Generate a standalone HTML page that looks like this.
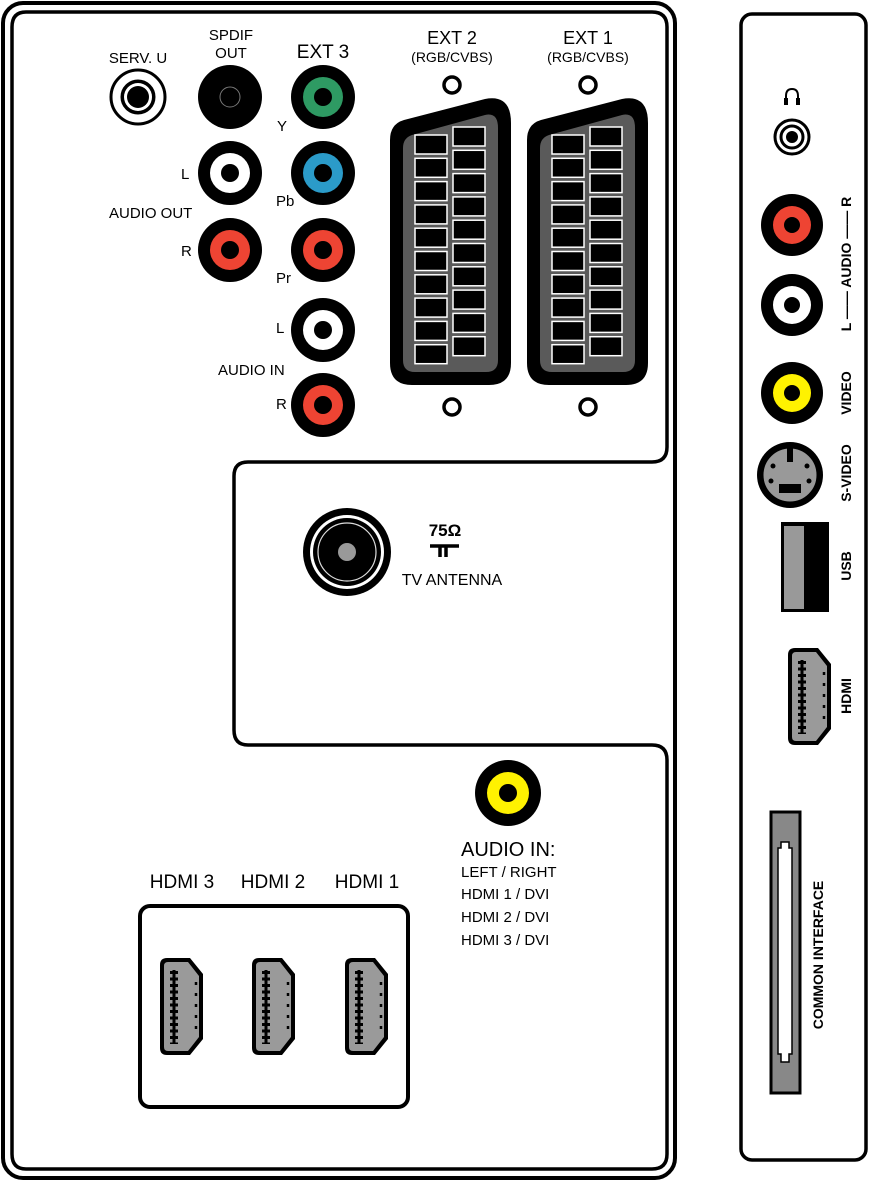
<!DOCTYPE html>
<html><head><meta charset="utf-8"><style>
html,body{margin:0;padding:0;background:#fff}
svg{display:block}
text{font-family:"Liberation Sans",sans-serif;fill:#000}
</style></head><body>
<svg width="869" height="1181" viewBox="0 0 869 1181" xmlns="http://www.w3.org/2000/svg">
<defs>
<g id="scart">
<path d="M0,42 Q0,26 14,22 L95,1 Q121,-4 121,25 L121,265 Q121,287 99,287 L22,287 Q0,287 0,265 Z" fill="#000"/>
<path d="M13,50 Q13,40 22,37 L95,17 Q108,14 108,30 L108,262 Q108,274 96,274 L25,274 Q13,274 13,262 Z" fill="#5a5a5a"/>
<g fill="#000" stroke="#fff" stroke-width="1.5">
<rect x="25" y="37" width="32" height="19"/><rect x="25" y="60.3" width="32" height="19"/><rect x="25" y="83.6" width="32" height="19"/><rect x="25" y="106.9" width="32" height="19"/><rect x="25" y="130.2" width="32" height="19"/><rect x="25" y="153.5" width="32" height="19"/><rect x="25" y="176.8" width="32" height="19"/><rect x="25" y="200.1" width="32" height="19"/><rect x="25" y="223.4" width="32" height="19"/><rect x="25" y="246.7" width="32" height="19"/>
<rect x="63" y="29" width="32" height="19"/><rect x="63" y="52.3" width="32" height="19"/><rect x="63" y="75.6" width="32" height="19"/><rect x="63" y="98.9" width="32" height="19"/><rect x="63" y="122.2" width="32" height="19"/><rect x="63" y="145.5" width="32" height="19"/><rect x="63" y="168.8" width="32" height="19"/><rect x="63" y="192.1" width="32" height="19"/><rect x="63" y="215.4" width="32" height="19"/><rect x="63" y="238.7" width="32" height="19"/>
</g>
</g>
<g id="hdmi">
<path d="M7,0 L30,0 L43,16 L43,81 L30,97 L7,97 Q0,97 0,90 L0,7 Q0,0 7,0 Z" fill="#000"/>
<path d="M8,4 L28,4 L39,18 L39,79 L28,93 L8,93 Q4,93 4,89 L4,8 Q4,4 8,4 Z" fill="#9a9a9a"/>
<line x1="14" y1="12" x2="14" y2="86" stroke="#000" stroke-width="3"/>
<line x1="14" y1="13" x2="14" y2="86" stroke="#000" stroke-width="8" stroke-dasharray="3,3.5"/>
<line x1="36" y1="24" x2="36" y2="74" stroke="#000" stroke-width="2.5" stroke-dasharray="3,8"/>
</g>
</defs>

<rect x="3" y="3" width="672" height="1175" rx="20" fill="none" stroke="#000" stroke-width="4"/>
<path d="M26,12 L652,12 Q667,12 667,27 L667,447 Q667,462 652,462 L248,462 Q234,462 234,476 L234,730 Q234,745 248,745 L652,745 Q667,745 667,760 L667,1154 Q667,1169 652,1169 L26,1169 Q12,1169 12,1154 L12,27 Q12,12 26,12 Z" fill="none" stroke="#000" stroke-width="3.5"/>

<rect x="741" y="14" width="125" height="1146" rx="11" fill="none" stroke="#000" stroke-width="3.5"/>

<text x="138" y="63" font-size="15" text-anchor="middle">SERV. U</text>
<text x="231" y="40" font-size="15" text-anchor="middle">SPDIF</text>
<text x="231" y="58" font-size="15" text-anchor="middle">OUT</text>
<text x="323" y="58" font-size="19" text-anchor="middle">EXT 3</text>

<circle cx="138" cy="97" r="27" fill="#fff" stroke="#000" stroke-width="3"/>
<circle cx="138" cy="97" r="17" fill="#000" stroke="#000" stroke-width="1"/>
<circle cx="138" cy="97" r="14" fill="#fff"/>
<circle cx="138" cy="97" r="11" fill="#000"/>
<circle cx="230" cy="97" r="32" fill="#000"/>
<circle cx="230" cy="97" r="10" fill="none" stroke="#777" stroke-width="1"/>
<g>
<circle cx="323" cy="97" r="32" fill="#000"/><circle cx="323" cy="97" r="20" fill="#2e9a63"/><circle cx="323" cy="97" r="9" fill="#000"/>
<circle cx="230" cy="173" r="32" fill="#000"/><circle cx="230" cy="173" r="20" fill="#fff"/><circle cx="230" cy="173" r="9" fill="#000"/>
<circle cx="323" cy="173" r="32" fill="#000"/><circle cx="323" cy="173" r="20" fill="#2b9bc9"/><circle cx="323" cy="173" r="9" fill="#000"/>
<circle cx="230" cy="250" r="32" fill="#000"/><circle cx="230" cy="250" r="20" fill="#ee4433"/><circle cx="230" cy="250" r="9" fill="#000"/>
<circle cx="323" cy="250" r="32" fill="#000"/><circle cx="323" cy="250" r="20" fill="#ee4433"/><circle cx="323" cy="250" r="9" fill="#000"/>
<circle cx="323" cy="330" r="32" fill="#000"/><circle cx="323" cy="330" r="20" fill="#fff"/><circle cx="323" cy="330" r="9" fill="#000"/>
<circle cx="323" cy="405" r="32" fill="#000"/><circle cx="323" cy="405" r="20" fill="#ee4433"/><circle cx="323" cy="405" r="9" fill="#000"/>
</g>
<text x="277" y="131" font-size="15">Y</text>
<text x="181" y="179" font-size="15">L</text>
<text x="276" y="206" font-size="15">Pb</text>
<text x="109" y="218" font-size="15">AUDIO OUT</text>
<text x="181" y="256" font-size="15">R</text>
<text x="276" y="283" font-size="15">Pr</text>
<text x="276" y="333" font-size="15">L</text>
<text x="218" y="375" font-size="15">AUDIO IN</text>
<text x="276" y="409" font-size="15">R</text>

<text x="452" y="44" font-size="18" text-anchor="middle">EXT 2</text>
<text x="452" y="62" font-size="14" text-anchor="middle">(RGB/CVBS)</text>
<text x="588" y="44" font-size="18" text-anchor="middle">EXT 1</text>
<text x="588" y="62" font-size="14" text-anchor="middle">(RGB/CVBS)</text>
<circle cx="452" cy="85" r="8" fill="none" stroke="#000" stroke-width="3.5"/>
<circle cx="588" cy="85" r="8" fill="none" stroke="#000" stroke-width="3.5"/>
<circle cx="452" cy="407" r="8" fill="none" stroke="#000" stroke-width="3.5"/>
<circle cx="588" cy="407" r="8" fill="none" stroke="#000" stroke-width="3.5"/>
<use href="#scart" x="390" y="98"/>
<use href="#scart" x="527" y="98"/>

<circle cx="347" cy="552" r="44" fill="#000"/>
<circle cx="347" cy="552" r="37" fill="#fff"/>
<circle cx="347" cy="552" r="34" fill="#000"/>
<circle cx="347" cy="552" r="29" fill="none" stroke="#ddd" stroke-width="1.2"/>
<circle cx="347" cy="552" r="9" fill="#999"/>
<text x="445" y="536" font-size="17" font-weight="bold" text-anchor="middle">75Ω</text>
<path d="M430,546 L459,546 M440,546 L440,557 M446,546 L446,557" stroke="#000" stroke-width="3.5" fill="none"/>
<text x="452" y="585" font-size="16" text-anchor="middle">TV ANTENNA</text>

<circle cx="508" cy="793" r="33" fill="#000"/><circle cx="508" cy="793" r="21" fill="#fff200"/><circle cx="508" cy="793" r="9" fill="#000"/>
<text x="461" y="856" font-size="20">AUDIO IN:</text>
<text x="461" y="877" font-size="15">LEFT / RIGHT</text>
<text x="461" y="899" font-size="15">HDMI 1 / DVI</text>
<text x="461" y="922" font-size="15">HDMI 2 / DVI</text>
<text x="461" y="945" font-size="15">HDMI 3 / DVI</text>

<text x="182" y="888" font-size="19" text-anchor="middle">HDMI 3</text>
<text x="273" y="888" font-size="19" text-anchor="middle">HDMI 2</text>
<text x="367" y="888" font-size="19" text-anchor="middle">HDMI 1</text>
<rect x="140" y="906" width="268" height="201" rx="10" fill="none" stroke="#000" stroke-width="4"/>
<use href="#hdmi" x="160" y="958"/>
<use href="#hdmi" x="252" y="958"/>
<use href="#hdmi" x="345" y="958"/>

<path d="M786,104 L786,96 Q786,89 792,89 Q798,89 798,96 L798,104" fill="none" stroke="#000" stroke-width="2"/>
<rect x="784" y="98" width="4" height="7" fill="#000"/><rect x="796" y="98" width="4" height="7" fill="#000"/>
<circle cx="792" cy="137" r="17" fill="#fff" stroke="#000" stroke-width="3"/>
<circle cx="792" cy="137" r="11" fill="none" stroke="#000" stroke-width="3"/>
<circle cx="792" cy="137" r="6" fill="#000"/>

<circle cx="792" cy="225" r="31" fill="#000"/><circle cx="792" cy="225" r="19" fill="#ee4433"/><circle cx="792" cy="225" r="8" fill="#000"/>
<circle cx="792" cy="305" r="31" fill="#000"/><circle cx="792" cy="305" r="19" fill="#fff"/><circle cx="792" cy="305" r="8" fill="#000"/>
<circle cx="792" cy="393" r="31" fill="#000"/><circle cx="792" cy="393" r="19" fill="#fff200"/><circle cx="792" cy="393" r="8" fill="#000"/>
<circle cx="790" cy="475" r="33" fill="#000"/>
<circle cx="790" cy="475" r="27" fill="#999" stroke="#000" stroke-width="1"/>
<rect x="787" y="448" width="6" height="14" fill="#000"/>
<rect x="779" y="484" width="22" height="9" fill="#000"/>
<circle cx="773" cy="466" r="2.5" fill="#000"/><circle cx="807" cy="466" r="2.5" fill="#000"/>
<circle cx="771" cy="481" r="2.5" fill="#000"/><circle cx="809" cy="481" r="2.5" fill="#000"/>

<rect x="781" y="522" width="48" height="90" fill="#000"/>
<rect x="784" y="526" width="20" height="83" fill="#999"/>
<use href="#hdmi" x="788" y="648"/>

<g font-family="Liberation Sans Narrow, Liberation Sans, sans-serif" font-weight="bold" font-size="14">
<text transform="translate(851,264) rotate(-90)" text-anchor="middle">L —— AUDIO —— R</text>
<text transform="translate(851,393) rotate(-90)" text-anchor="middle">VIDEO</text>
<text transform="translate(851,473) rotate(-90)" text-anchor="middle">S-VIDEO</text>
<text transform="translate(851,566) rotate(-90)" text-anchor="middle">USB</text>
<text transform="translate(851,696) rotate(-90)" text-anchor="middle">HDMI</text>
<text transform="translate(823,955) rotate(-90)" text-anchor="middle">COMMON  INTERFACE</text>
</g>

<rect x="771" y="812" width="29" height="281" fill="#888" stroke="#000" stroke-width="3"/>
<path d="M781,842 L781,848 L778,848 L778,1054 L781,1054 L781,1062 L789,1062 L789,1054 L792,1054 L792,848 L789,848 L789,842 Z" fill="#fff" stroke="#000" stroke-width="1.5"/>
</svg>
</body></html>
